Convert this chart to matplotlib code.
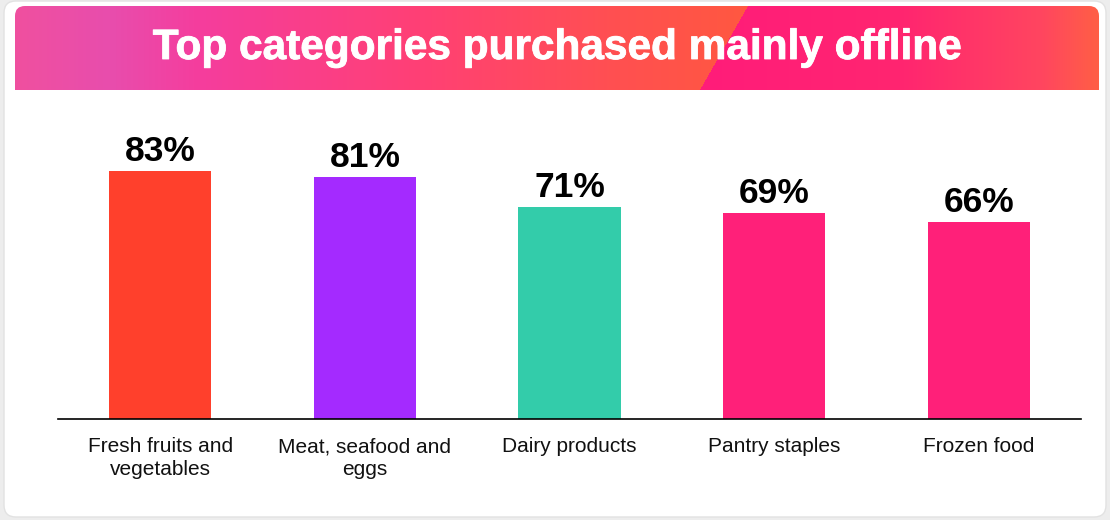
import numpy as np
import matplotlib
matplotlib.use("Agg")
import matplotlib.pyplot as plt
import matplotlib.patheffects as pe
from matplotlib.patches import FancyBboxPatch
from matplotlib.colors import to_rgb

plt.rcParams['font.family'] = ['Liberation Sans', 'DejaVu Sans']

# data
categories = ["Fresh fruits and\nvegetables", "Meat, seafood and\neggs",
              "Dairy products", "Pantry staples", "Frozen food"]
values = [83, 81, 71, 69, 66]
bar_colors = ["#FF402C", "#A42AFF", "#33CCAA", "#FF2079", "#FF2079"]
title = "Top categories purchased mainly offline"

W, H = 1110, 520
fig = plt.figure(figsize=(W / 100, H / 100), dpi=100)
fig.patch.set_facecolor("#EDEDED")

# background layer in pixel coordinates
bg = fig.add_axes([0, 0, 1, 1])
bg.set_xlim(0, W)
bg.set_ylim(H, 0)
bg.axis("off")

card = FancyBboxPatch((4 + 12, 1 + 12), 1102 - 24, 516 - 24,
                      boxstyle="round,pad=12", fc="white", ec="#E2E2E2", lw=1)
bg.add_patch(card)

# header gradient
hx0, hx1, hy0, hy1 = 15, 1099, 6, 90
xs = np.arange(hx0, hx1) + 0.5
ys = np.arange(hy0, hy1) + 0.5


def grad(stops, x):
    px = [s[0] for s in stops]
    cols = np.array([to_rgb(s[1]) for s in stops])
    return np.stack([np.interp(x, px, cols[:, i]) for i in range(3)], axis=-1)


left_stops = [(15, "#F0509F"), (110, "#E84DAD"), (200, "#F53D9D"),
              (420, "#FF4075"), (620, "#FF5050"), (750, "#FF5840")]
right_stops = [(700, "#FF1C7A"), (900, "#FF2570"), (1040, "#FF4560"), (1099, "#FF5F45")]
gl = grad(left_stops, xs)
gr = grad(right_stops, xs)
X, Y = np.meshgrid(xs, ys)
xb = 748 - (Y - 6) * 48 / 84
mask = (X > xb)[..., None]
img = np.where(mask, gr[None, :, :], gl[None, :, :])

clip = FancyBboxPatch((hx0 + 10, hy0 + 10), (hx1 - hx0) - 20, 100,
                      boxstyle="round,pad=10", fc="none", ec="none")
bg.add_patch(clip)
im = bg.imshow(img, extent=(hx0, hx1, hy1, hy0), interpolation="bilinear",
               aspect="auto", zorder=2)
im.set_clip_path(clip)
bg.text(558, 48, title, color="white", fontsize=30.5, fontweight="bold",
        ha="center", va="center", zorder=3,
        path_effects=[pe.withStroke(linewidth=0.6, foreground="white")])

# bar chart
ax = fig.add_axes([58 / W, (H - 419) / H, (1081 - 58) / W, (419 - 100) / H])
ax.set_facecolor("none")
x = np.arange(len(categories))
ax.bar(x, values, width=0.5, color=bar_colors, zorder=2)
ax.set_xlim(-0.5, len(categories) - 0.5)
ax.set_ylim(0, 319 / 2.99)
for xi, v in zip(x, values):
    ax.annotate(f"{v}%", (xi, v), xytext=(0, 7), textcoords="offset points",
                ha="center", va="baseline", fontsize=25.5, fontweight="bold",
                color="black")
ax.set_xticks(x)
ax.set_xticklabels(categories, fontsize=15, color="#111111",
                   multialignment="center", linespacing=1.25)
ax.tick_params(axis="x", length=0, pad=13)
ax.set_yticks([])
for s in ["top", "left", "right"]:
    ax.spines[s].set_visible(False)
ax.spines["bottom"].set_color("black")
ax.spines["bottom"].set_linewidth(1.2)

fig.savefig("out.png", dpi=100, facecolor=fig.get_facecolor())
